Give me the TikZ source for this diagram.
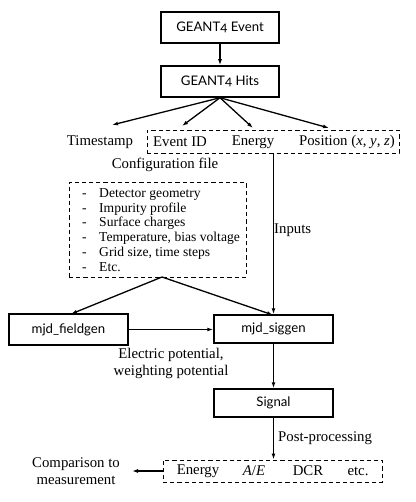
\documentclass[tikz,border=0pt]{standalone}
\usepackage{fontspec}
\setmainfont{Liberation Serif}
\newfontfamily\boxfam[Numbers=OldStyle]{Lato}
\usetikzlibrary{arrows.meta,calc}
\newcommand\boxfont{\boxfam\fontsize{13.2}{15}\selectfont}
\tikzset{
  arr/.style={-{Latex[length=6pt,width=4pt]}, line width=1.3pt},
  sbox/.style={draw, line width=1.5pt, rectangle, inner sep=0pt, font=\boxfont},
  dbox/.style={draw, line width=0.9pt, dash pattern=on 4.2pt off 3pt, rectangle, inner sep=0pt},
  lbl/.style={inner sep=0pt, font=\fontsize{14.8}{17}\selectfont},
  itm/.style={inner sep=0pt, anchor=base west, font=\fontsize{13.6}{14}\selectfont},
}
\begin{document}
\begin{tikzpicture}[x=1pt,y=-1pt]
\useasboundingbox (0,0) rectangle (415,502);
% top boxes
\node[sbox, minimum width=118pt, minimum height=31pt] (ev) at (220,27.5) {GEANT4 Event};
\node[sbox, minimum width=118pt, minimum height=31pt] (hits) at (220,81.5) {GEANT4 Hits};
\draw[arr] (ev.south) -- (hits.north);
% hits row
\node[lbl] (ts) at (100,142) {Timestamp};
\node[dbox, minimum width=252pt, minimum height=23pt] (inp) at (273,141.5) {};
\node[lbl] (eid) at (180,142) {Event ID};
\node[lbl] (en) at (253,142) {Energy};
\node[lbl] (pos) at (347,142) {Position (\textit{x}, \textit{y}, \textit{z})};
\coordinate (tsT) at (112,125);
\coordinate (eidT) at (182,126);
\coordinate (enT) at (253,128);
\coordinate (posT) at (329,128);
\draw[arr] (hits.south) -- (tsT);
\draw[arr] (hits.south) -- (eidT);
\draw[arr] (hits.south) -- (enT);
\draw[arr] (hits.south) -- (posT);
% configuration
\node[lbl] (cft) at (165,165) {Configuration file};
\node[dbox, minimum width=177pt, minimum height=95pt] (cfg) at (157.5,229.5) {};
\foreach \t [count=\i] in {Detector geometry, Impurity profile, Surface charges, {Temperature, bias voltage}, {Grid size, time steps}, Etc.}{
  \node[itm] (cd\i) at (82,{197.5+14.7*(\i-1)}) {-};
  \node[itm] (ci\i) at (99,{197.5+14.7*(\i-1)}) {\t};
}
% middle boxes
\node[sbox, minimum width=119pt, minimum height=31pt] (fg) at (68.5,329.5) {mjd\_fieldgen};
\node[sbox, minimum width=119pt, minimum height=28pt] (sg) at (273.5,329) {mjd\_siggen};
\coordinate (cfgB) at (162,277);
\coordinate (fgT) at (71,314);
\draw[arr] (cfgB) -- (fgT);
\draw[arr] (cfgB) -- (273,315);
\draw[arr] (inp.south -| sg.north) -- (sg.north);
\node[lbl, anchor=west] (inl) at (274,230) {Inputs};
\draw[arr] (fg.east) -- (fg.east -| sg.west);
\node[lbl, align=center] (ep) at (171,363.5) {Electric potential,\\weighting potential};
% signal
\node[sbox, minimum width=119pt, minimum height=28pt] (sig) at (273.5,403) {Signal};
\draw[arr] (sg.south) -- (sig.north);
\node[dbox, minimum width=219pt, minimum height=22pt] (post) at (272.5,471) {};
\draw[arr] (sig.south) -- (sig.south |- post.north);
\node[lbl, anchor=west] (ppl) at (278,438) {Post-processing};
\node[lbl] (pe) at (198,471) {Energy};
\node[lbl] (pae) at (254,471) {\textit{A}/\textit{E}};
\node[lbl] (pdcr) at (308,471) {DCR};
\node[lbl] (petc) at (358,471) {etc.};
\node[lbl, align=center] (cmp) at (76,471.5) {Comparison to\\measurement};
\draw[arr] (post.west) -- (132,471);
\end{tikzpicture}
\end{document}
